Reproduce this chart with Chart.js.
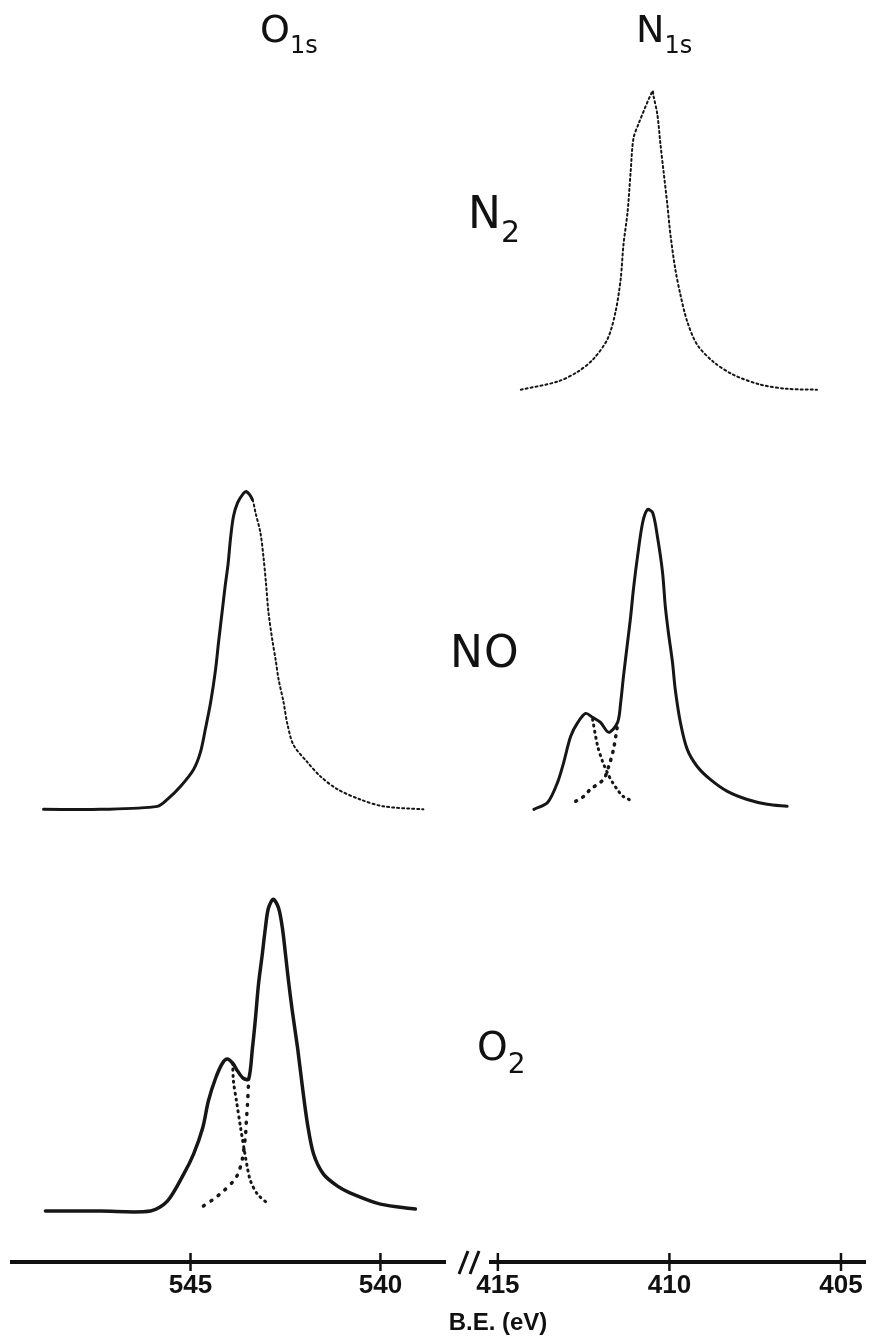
<!DOCTYPE html>
<head>
  <script src="https://cdn.jsdelivr.net/npm/chart.js@4.4.1/dist/chart.umd.min.js"></script>
  <style>
    body { margin: 0; background: #fff; }
    .wrap { position: relative; width: 873px; height: 1337px; }
    .wrap canvas { position: absolute; left: 0; top: 0; }
  </style>
</head>

<body>
  <div class="wrap">
    <canvas id="o1sCanvas" width="873" height="1337"></canvas>
    <canvas id="n1sCanvas" width="873" height="1337"></canvas>
  </div>

  <script>
    // vertical offsets of the three stacked spectra (same units as the counts)
    const offsets = { N2: 291, NO: 151, O2: 17 };

    // N2, N1s
    const n2N1sEv = [414.33, 413.26, 412.67, 412.21, 411.80, 411.57, 411.42, 411.34, 411.22, 411.13, 411.05, 410.90, 410.49, 410.47, 410.35, 410.26, 410.17, 410.06, 409.97, 409.83, 409.68, 409.48, 409.19, 408.72, 408.14, 407.35, 406.57, 405.70];
    const n2N1sCounts = [0, 2.7, 6, 10.3, 17, 26, 37, 48.3, 59.3, 72.7, 83.7, 88.7, 99.7, 98.3, 91.7, 81.7, 72.7, 61.7, 51.7, 40.3, 31.7, 22.7, 15, 9.3, 5, 1.7, 0.3, 0];

    // NO, O1s
    const noO1sEv = [548.87, 547.37, 545.87, 545.61, 545.26, 544.92, 544.74, 544.61, 544.47, 544.34, 544.26, 544.16, 544.09, 544.01, 543.95, 543.87, 543.76, 543.63, 543.53, 543.37, 543.29, 543.16, 543.08, 543.01, 542.95, 542.84, 542.76, 542.68, 542.55, 542.45, 542.29, 541.92, 541.58, 541.13, 540.53, 539.92, 538.87];
    const noO1sCounts = [0, 0, 1, 3.3, 7.7, 13.3, 19, 26.7, 35.7, 46.7, 56, 66.7, 74.3, 82, 90, 97.7, 102.3, 105, 106, 103.3, 99, 92.3, 84.3, 75, 66, 56, 50, 43.3, 35.7, 28.5, 21.5, 15.7, 11, 6.7, 3.3, 1, 0];

    // NO, N1s (measured envelope + the two fitted components' tails)
    const noN1sEv = [413.95, 413.55, 413.26, 413.08, 412.88, 412.67, 412.44, 412.24, 412.01, 411.77, 411.51, 411.42, 411.34, 411.22, 411.13, 411.05, 410.93, 410.78, 410.64, 410.49, 410.35, 410.20, 410.12, 410.03, 409.91, 409.83, 409.68, 409.48, 409.19, 408.81, 408.31, 407.73, 407.15, 406.57];
    const noN1sCounts = [0, 2.3, 9, 15.7, 24.3, 29, 32, 30.7, 29, 25.7, 29, 35.7, 44.3, 55.7, 64.3, 73.3, 84.3, 95.7, 100, 99, 91, 79, 67.7, 59, 49, 40, 29, 20, 14.3, 10, 6, 3.3, 1.7, 1];
    const noN1sHighEv = [412.24, 412.09, 411.95, 411.80, 411.66, 411.51, 411.37, 411.13];
    const noN1sHighCounts = [30, 21, 16, 12, 9, 6.5, 4.5, 3];
    const noN1sLowEv = [412.73, 412.50, 412.30, 411.92, 411.77, 411.63, 411.51];
    const noN1sLowCounts = [2.7, 4.3, 6.7, 10, 14.3, 20, 28.3];

    // O2, O1s (measured envelope + the two fitted components' tails)
    const o2O1sEv = [548.82, 547.37, 546.05, 545.61, 545.18, 544.92, 544.68, 544.53, 544.34, 544.16, 544.03, 543.89, 543.76, 543.61, 543.47, 543.37, 543.29, 543.21, 543.11, 543.03, 542.95, 542.82, 542.68, 542.58, 542.50, 542.42, 542.32, 542.18, 542.05, 541.92, 541.76, 541.50, 541.13, 540.79, 540.00, 539.08];
    const o2O1sCounts = [0, 0, 0, 3.3, 12.3, 19, 27.7, 36.7, 44.3, 49.3, 50.7, 49.3, 46.7, 44.3, 44, 54.3, 64.3, 75.7, 85.7, 94.3, 101, 104, 101, 94.3, 85.7, 76.7, 66.7, 54.3, 41, 29, 19, 12.3, 8.3, 6, 2.3, 0.7];
    const o2O1sHighEv = [543.89, 543.87, 543.79, 543.68, 543.58, 543.50, 543.42, 543.24, 542.95];
    const o2O1sHighCounts = [49.3, 43.3, 36.7, 27.7, 20, 14.3, 10, 5.7, 2.3];
    const o2O1sLowEv = [544.66, 544.39, 544.13, 543.87, 543.74, 543.63, 543.55, 543.53, 543.50, 543.47];
    const o2O1sLowCounts = [1.7, 4, 6.7, 10, 12.7, 17.7, 25.7, 30, 35.7, 43.3];

    // axis ranges of the two halves of the broken B.E. axis
    const o1sRange = [538.3, 549.7];
    const n1sRange = [404.3, 415.2];

    function series(ev, counts, offset) {
      return ev.map((e, i) => ({ x: e, y: offset + counts[i] }));
    }

    function line(data, width, dash) {
      return {
        data: data,
        borderColor: '#161616',
        borderWidth: width,
        borderDash: dash || [],
        borderCapStyle: 'round',
        pointRadius: 0,
        tension: 0.3
      };
    }

    // tick marks that cross the thick axis line
    const tickMarks = {
      id: 'tickMarks',
      afterDraw(chart) {
        const ctx = chart.ctx;
        const xs = chart.scales.x;
        const yb = chart.chartArea.bottom;
        ctx.save();
        ctx.strokeStyle = '#111';
        ctx.lineWidth = 2.5;
        xs.ticks.forEach((t, i) => {
          const px = xs.getPixelForTick(i);
          ctx.beginPath();
          ctx.moveTo(px, yb - 9);
          ctx.lineTo(px, yb + 9);
          ctx.stroke();
        });
        ctx.restore();
      }
    };

    function label(ctx, main, sub, x, y, size, subSize) {
      ctx.font = size + 'px "DejaVu Sans"';
      ctx.fillText(main, x, y);
      const w = ctx.measureText(main).width;
      if (sub) {
        ctx.font = subSize + 'px "DejaVu Sans"';
        ctx.fillText(sub, x + w, y + subSize * 0.45);
      }
    }

    // headings, molecule names, axis title and the break mark
    const annotations = {
      id: 'annotations',
      afterDraw(chart) {
        const ctx = chart.ctx;
        ctx.save();
        ctx.fillStyle = '#111';
        ctx.textBaseline = 'alphabetic';
        label(ctx, 'O', '1s', 260, 42, 38, 24);
        label(ctx, 'N', '1s', 636, 42, 38, 24);
        label(ctx, 'N', '2', 468, 228, 44, 30);
        label(ctx, 'N', '', 450, 667, 44, 0);
        label(ctx, 'O', '', 484, 667, 44, 0);
        label(ctx, 'O', '2', 477, 1060, 39, 28);

        ctx.font = 'bold 24px "Liberation Sans"';
        ctx.textAlign = 'center';
        ctx.fillText('B.E. (eV)', 498, 1330);

        ctx.strokeStyle = '#111';
        ctx.lineWidth = 3;
        [[459, 468], [470, 479]].forEach(p => {
          ctx.beginPath();
          ctx.moveTo(p[0], 1274);
          ctx.lineTo(p[1], 1251);
          ctx.stroke();
        });
        ctx.restore();
      }
    };

    function makeChart(id, range, pad, datasets, extra) {
      return new Chart(document.getElementById(id).getContext('2d'), {
        type: 'line',
        data: { datasets: datasets },
        options: {
          responsive: false,
          animation: false,
          layout: { padding: { left: pad[0], right: pad[1], top: 0, bottom: 0 } },
          plugins: { legend: { display: false }, tooltip: { enabled: false } },
          scales: {
            x: {
              type: 'linear',
              reverse: true,
              min: range[0],
              max: range[1],
              afterFit: s => { s.height = 75; },
              grid: { display: false, drawTicks: false },
              border: { display: true, width: 4, color: '#111' },
              ticks: {
                stepSize: 5,
                includeBounds: false,
                color: '#111',
                padding: 8,
                font: { family: 'Liberation Sans', size: 26, weight: 'bold' }
              }
            },
            y: { display: false, min: 0, max: 421 }
          }
        },
        plugins: [tickMarks].concat(extra)
      });
    }

    // NO O1s: the low-BE flank was recorded with sparser points
    const noO1s = line(series(noO1sEv, noO1sCounts, offsets.NO), 3);
    noO1s.segment = {
      borderDash: c => c.p0.parsed.x < 543.45 ? [2, 3] : undefined,
      borderWidth: c => c.p0.parsed.x < 543.45 ? 2 : undefined
    };

    makeChart('o1sCanvas', o1sRange, [12, 428], [
      noO1s,
      line(series(o2O1sEv, o2O1sCounts, offsets.O2), 3.5),
      line(series(o2O1sHighEv, o2O1sHighCounts, offsets.O2), 3, [1, 5]),
      line(series(o2O1sLowEv, o2O1sLowCounts, offsets.O2), 3.5, [1, 8])
    ], [annotations]);

    makeChart('n1sCanvas', n1sRange, [491, 8], [
      line(series(n2N1sEv, n2N1sCounts, offsets.N2), 2, [2, 3]),
      line(series(noN1sEv, noN1sCounts, offsets.NO), 3),
      line(series(noN1sHighEv, noN1sHighCounts, offsets.NO), 3, [1, 5]),
      line(series(noN1sLowEv, noN1sLowCounts, offsets.NO), 3.5, [1, 7])
    ], []);
  </script>
</body>
